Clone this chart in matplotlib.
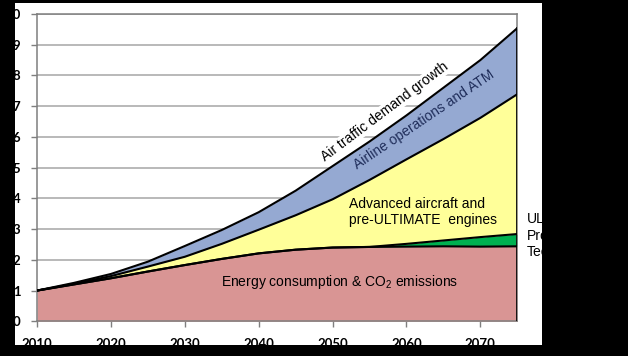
import matplotlib
matplotlib.use("Agg")
import matplotlib.pyplot as plt
from matplotlib.patches import Rectangle
import numpy as np

plt.rcParams['mathtext.default'] = 'regular'

# ---- data ----
years = [2010, 2015, 2020, 2025, 2030, 2035, 2040, 2045, 2050, 2055, 2060, 2065, 2070, 2075]
energy_co2 = [1.00, 1.20, 1.40, 1.62, 1.83, 2.03, 2.21, 2.33, 2.40, 2.42, 2.43, 2.44, 2.43, 2.44]
ultimate_top = [1.00, 1.20, 1.40, 1.62, 1.83, 2.03, 2.21, 2.33, 2.40, 2.42, 2.52, 2.63, 2.74, 2.84]
advanced_top = [1.00, 1.22, 1.47, 1.78, 2.10, 2.52, 2.98, 3.45, 3.97, 4.60, 5.27, 5.93, 6.62, 7.39]
traffic_demand = [1.00, 1.25, 1.54, 1.94, 2.45, 2.97, 3.55, 4.25, 5.05, 5.85, 6.70, 7.60, 8.50, 9.54]

x_ticks = [2010, 2020, 2030, 2040, 2050, 2060, 2070]
y_ticks = [0, 1, 2, 3, 4, 5, 6, 7, 8, 9, 10]

c_pink = '#D99594'
c_green = '#00B050'
c_yellow = '#FFFF99'
c_blue = '#95A9D2'

W, H = 628, 356
fig = plt.figure(figsize=(W / 100, H / 100), dpi=100, facecolor='black')
fig.patches.append(Rectangle((15 / W, 1 - 345 / H), (542 - 15) / W, (345 - 3) / H,
                             transform=fig.transFigure, facecolor='white',
                             edgecolor='none', zorder=-5))

ax = fig.add_axes([37 / W, 1 - 321.3 / H, (517.3 - 37) / W, (321.3 - 14) / H])
ax.set_facecolor('white')
ax.set_xlim(2010, 2075)
ax.set_ylim(0, 10)

yr = np.array(years)
zero = np.zeros(len(years))
ax.fill_between(yr, zero, energy_co2, color=c_pink, lw=0, zorder=2)
ax.fill_between(yr, energy_co2, ultimate_top, color=c_green, lw=0, zorder=2)
ax.fill_between(yr, ultimate_top, advanced_top, color=c_yellow, lw=0, zorder=2)
ax.fill_between(yr, advanced_top, traffic_demand, color=c_blue, lw=0, zorder=2)
for s in (energy_co2, ultimate_top, advanced_top, traffic_demand):
    ax.plot(yr, s, color='black', lw=1.5, zorder=3, solid_capstyle='butt',
            solid_joinstyle='round')
ax.plot([yr[-1], yr[-1]], [0, traffic_demand[-1]], color='black', lw=1.2, zorder=3)

ax.set_xticks(x_ticks)
ax.set_yticks(y_ticks)
ax.grid(axis='y', color='#A6A6A6', lw=1.1, zorder=1)
ax.set_axisbelow(True)
for sp in ax.spines.values():
    sp.set_color('#7F7F7F')
    sp.set_linewidth(1.1)
ax.tick_params(axis='both', colors='#7F7F7F', length=4, width=1, labelcolor='black')
ax.tick_params(axis='y', pad=8)
ax.tick_params(axis='x', pad=8)
for lab in ax.get_xticklabels() + ax.get_yticklabels():
    lab.set_fontfamily('Lato')
    lab.set_fontweight('bold')
    lab.set_fontsize(9.5)

fnt = 'Liberation Sans'
ax.text(2057.1, 6.82, 'Air traffic demand growth', rotation=37, ha='center', va='center',
        fontsize=10, family=fnt, color='black', zorder=4,
        bbox=dict(facecolor='white', edgecolor='none', pad=0.5))
ax.text(2062.4, 6.55, 'Airline operations and ATM', rotation=34, ha='center', va='center',
        fontsize=10, family=fnt, color='#1F2D5A', zorder=4)
ax.text(2052.2, 3.56, 'Advanced aircraft and\npre-ULTIMATE  engines', ha='left', va='center',
        fontsize=10, family=fnt, color='black', linespacing=1.25, zorder=4)
ax.text(2050.9, 1.29, 'Energy consumption & CO$_2$ emissions', ha='center', va='center',
        fontsize=10, family=fnt, color='black', zorder=4)
ax.text(2076.3, 2.79, 'ULTIMATE\nProposed\nTechnologies', ha='left', va='center',
        fontsize=10, family=fnt, color='black', linespacing=1.25, zorder=4, clip_on=False)

fig.savefig('out.png', dpi=100, facecolor='black')
